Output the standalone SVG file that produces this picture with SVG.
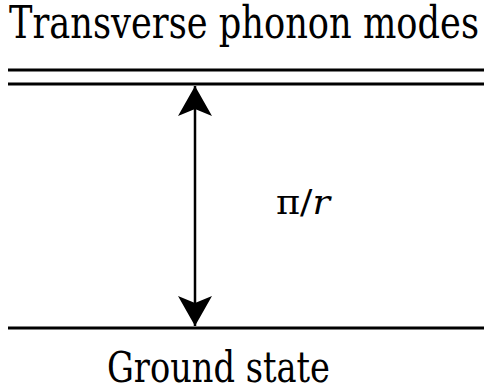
<svg xmlns="http://www.w3.org/2000/svg" width="484" height="385" viewBox="0 0 484 385">
<style>
text{font-family:"DejaVu Serif","Liberation Serif",serif;fill:#000}
.lv{stroke:#000;stroke-width:3;fill:none}
</style>
<defs>
<marker id="ah" viewBox="0 0 30 34" refX="30" refY="17" markerWidth="30" markerHeight="34" markerUnits="userSpaceOnUse" orient="auto-start-reverse">
<path d="M0,0 L30,17 L0,34 L7,17 Z" fill="#000"/>
</marker>
</defs>
<g id="title"><text x="9" y="38" font-size="45" textLength="470" lengthAdjust="spacingAndGlyphs">Transverse phonon modes</text></g>
<g id="excited"><line class="lv" x1="8" y1="70" x2="484" y2="70"/><line class="lv" x1="8" y1="84" x2="484" y2="84"/></g>
<g id="ground"><line class="lv" x1="8" y1="328" x2="484" y2="328"/><text x="107" y="382" font-size="43" textLength="223" lengthAdjust="spacingAndGlyphs">Ground state</text></g>
<g id="connectors"><line x1="195" y1="86" x2="195" y2="326" stroke="#000" stroke-width="2.5" marker-start="url(#ah)" marker-end="url(#ah)"/></g>
<g id="label"><text x="276" y="214" font-size="34" textLength="54" lengthAdjust="spacingAndGlyphs">π/<tspan font-style="italic">r</tspan></text></g>
</svg>
